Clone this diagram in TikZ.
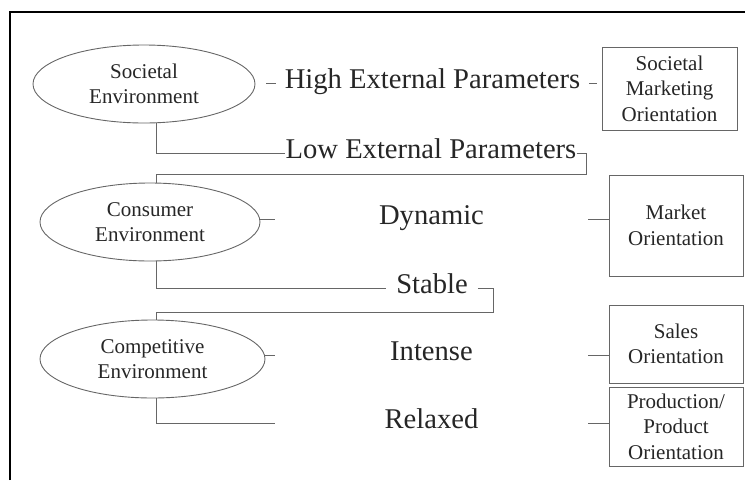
\documentclass[tikz,border=0pt]{standalone}
\usepackage{fontspec}
\setmainfont{Liberation Serif}
\usetikzlibrary{shapes.geometric}

\begin{document}
\begin{tikzpicture}[x=1pt, y=-1pt,
  env/.style={ellipse, draw=black!60, line width=0.9pt, minimum height=78pt, inner sep=0pt, align=center, font=\fontsize{21}{25}\selectfont, text=black!85},
  orient/.style={rectangle, draw=black!60, line width=0.9pt, inner sep=0pt, align=center, font=\fontsize{21}{25.5}\selectfont, text=black!85},
  param/.style={inner sep=0pt, text height=11pt, text depth=0pt, font=\fontsize{28.6}{34}\selectfont, text=black!85},
  wide/.style={param, minimum width=313pt},
  link/.style={draw=black!60, line width=0.9pt}]

\useasboundingbox (0,0) rectangle (745,480);

% frame
\draw[line width=2.4pt] (10,480) -- (10,12) -- (745,12);

% environments
\node[env, minimum width=222pt] (soc) at (144,84) {Societal\\Environment};
\node[env, minimum width=220pt] (con) at (150,222) {Consumer\\Environment};
\node[env, minimum width=225pt] (com) at (152.5,359) {Competitive\\Environment};

% orientations
\node[orient, minimum width=135pt, minimum height=83pt] (smo) at (669.5,88.5) {Societal\\Marketing\\Orientation};
\node[orient, minimum width=134pt, minimum height=101pt] (mo) at (676,225.5) {Market\\Orientation};
\node[orient, minimum width=134pt, minimum height=78pt] (so) at (676,344) {Sales\\Orientation};
\node[orient, minimum width=134pt, minimum height=79pt] (po) at (676,426.5) {Production/\\Product\\Orientation};

% parameters
\node[param] (high) at (432.5,83) {High External Parameters};
\node[param] (low) at (431,153) {Low External Parameters};
\node[wide] (dyn) at (431.5,219) {Dynamic};
\node[param] (stab) at (432,288) {Stable};
\node[wide] (int) at (431.5,355) {Intense};
\node[wide] (rel) at (431.5,423) {Relaxed};

\coordinate (stem) at (156,0);
\coordinate (b1) at (586,174);
\coordinate (b2) at (493,312);

% societal
\draw[link, shorten <=11pt, shorten >=9pt] (soc.east |- high.west) -- (high.west);
\draw[link, shorten <=9pt, shorten >=5pt] (high.east) -- (smo.west |- high.east);
\draw[link] (soc.south -| stem) |- (low.west);
\draw[link] (low.east) -| (b1) -| (con.north -| stem);

% consumer
\draw[link] (con.east |- dyn.west) -- (dyn.west);
\draw[link] (dyn.east) -- (dyn.east -| mo.west);
\draw[link, shorten >=10pt] (con.south -| stem) |- (stab.west);
\draw[link, shorten <=10pt] (stab.east) -| (b2) -| (com.north -| stem);

% competitive
\draw[link] (com.east |- int.west) -- (int.west);
\draw[link] (int.east) -- (int.east -| so.west);
\draw[link] (com.south -| stem) |- (rel.west);
\draw[link] (rel.east) -- (rel.east -| po.west);

\end{tikzpicture}
\end{document}
